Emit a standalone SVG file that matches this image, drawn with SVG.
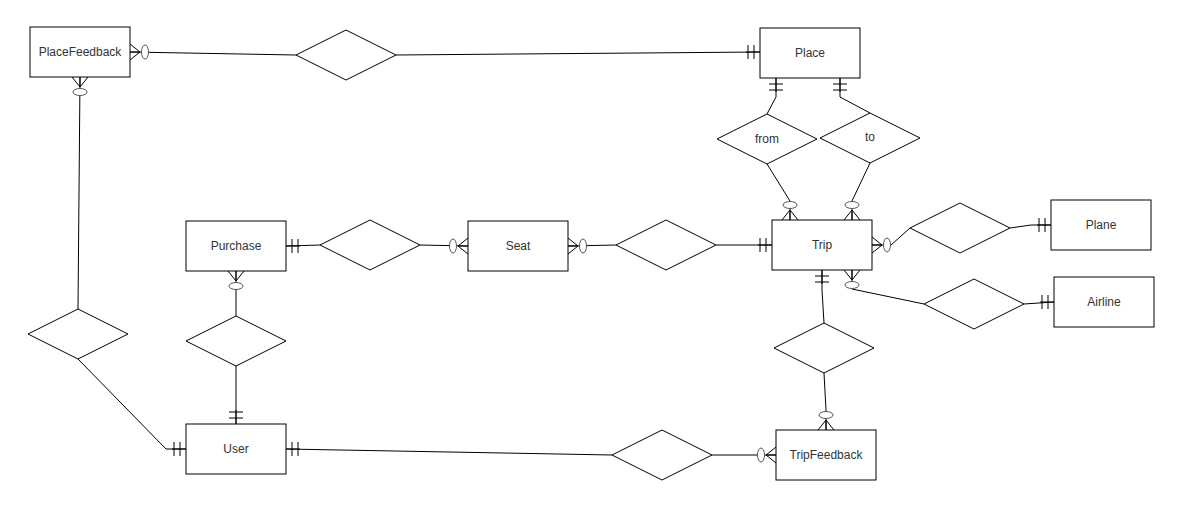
<svg xmlns="http://www.w3.org/2000/svg" xmlns:xlink="http://www.w3.org/1999/xlink" width="1180" height="506" viewBox="0 0 1180 506">
<style>
.ent{fill:#fff;stroke:#000;stroke-width:1}
.rel{fill:#fff;stroke:#000;stroke-width:1}
.t{font-family:"Liberation Sans",Arial,sans-serif;font-size:12px;fill:#333;text-anchor:middle;dominant-baseline:central}
.c{fill:none;stroke:#000;stroke-width:1}
.m{fill:none;stroke:#000;stroke-width:1}
.o{fill:#fff;stroke:#555;stroke-width:1}
</style>
<defs>
<g id="zm"><path class="m" d="M0,-8 L10,0 L0,8 M0,0 L10,0"/><ellipse class="o" cx="15" cy="0" rx="3.5" ry="7"/></g>
<g id="mo"><path class="m" d="M0,0 L14,0 M6,-7 L6,7 M12,-7 L12,7"/></g>
</defs>
<rect width="1180" height="506" fill="#fff"/>
<g id="connectors">
<path class="c" d="M130,52 L296,55"/>
<path class="c" d="M396,55 L760,52"/>
<path class="c" d="M80,77 L78,309"/>
<path class="c" d="M78,359 L166,449 L186,449"/>
<path class="c" d="M776,78 L776,97 L767,114"/>
<path class="c" d="M840,78 L840,97 L870,113"/>
<path class="c" d="M767,164 L790,201 L790,220"/>
<path class="c" d="M870,163 L852,201 L852,220"/>
<path class="c" d="M286,246 L320,245"/>
<path class="c" d="M420,245 L468,246"/>
<path class="c" d="M568,246 L616,245"/>
<path class="c" d="M716,245 L772,245"/>
<path class="c" d="M872,245 L891,245 L910,228"/>
<path class="c" d="M1010,228 L1031,225 L1051,225"/>
<path class="c" d="M852,270 L852,289 L924,304"/>
<path class="c" d="M1024,304 L1054,302"/>
<path class="c" d="M822,270 L822,290 L824,323"/>
<path class="c" d="M824,373 L826,410 L826,430"/>
<path class="c" d="M286,449 L612,455"/>
<path class="c" d="M712,455 L776,455"/>
<path class="c" d="M236,271 L236,316"/>
<path class="c" d="M236,366 L236,424"/>
<use xlink:href="#zm" transform="translate(130,52)"/>
<use xlink:href="#mo" transform="translate(760,52) rotate(180)"/>
<use xlink:href="#zm" transform="translate(80,77) rotate(90)"/>
<use xlink:href="#mo" transform="translate(186,449) rotate(180)"/>
<use xlink:href="#mo" transform="translate(776,78) rotate(90)"/>
<use xlink:href="#mo" transform="translate(840,78) rotate(90)"/>
<use xlink:href="#zm" transform="translate(790,220) rotate(-90)"/>
<use xlink:href="#zm" transform="translate(852,220) rotate(-90)"/>
<use xlink:href="#mo" transform="translate(286,246)"/>
<use xlink:href="#zm" transform="translate(468,246) rotate(180)"/>
<use xlink:href="#zm" transform="translate(568,246)"/>
<use xlink:href="#mo" transform="translate(772,245) rotate(180)"/>
<use xlink:href="#zm" transform="translate(872,245)"/>
<use xlink:href="#mo" transform="translate(1051,225) rotate(180)"/>
<use xlink:href="#zm" transform="translate(852,270) rotate(90)"/>
<use xlink:href="#mo" transform="translate(1054,302) rotate(180)"/>
<use xlink:href="#mo" transform="translate(822,270) rotate(90)"/>
<use xlink:href="#zm" transform="translate(826,430) rotate(-90)"/>
<use xlink:href="#mo" transform="translate(286,449)"/>
<use xlink:href="#zm" transform="translate(776,455) rotate(180)"/>
<use xlink:href="#zm" transform="translate(236,271) rotate(90)"/>
<use xlink:href="#mo" transform="translate(236,424) rotate(-90)"/>
</g>
<g id="PlaceFeedback"><rect class="ent" x="30" y="27" width="100" height="50"/><text class="t" x="80" y="52">PlaceFeedback</text></g>
<g id="Place"><rect class="ent" x="760" y="28" width="100" height="50"/><text class="t" x="810" y="53">Place</text></g>
<g id="Trip"><rect class="ent" x="772" y="220" width="100" height="50"/><text class="t" x="822" y="245">Trip</text></g>
<g id="Seat"><rect class="ent" x="468" y="221" width="100" height="50"/><text class="t" x="518" y="246">Seat</text></g>
<g id="Purchase"><rect class="ent" x="186" y="221" width="100" height="50"/><text class="t" x="236" y="246">Purchase</text></g>
<g id="User"><rect class="ent" x="186" y="424" width="100" height="50"/><text class="t" x="236" y="449">User</text></g>
<g id="TripFeedback"><rect class="ent" x="776" y="430" width="100" height="50"/><text class="t" x="826" y="455">TripFeedback</text></g>
<g id="Plane"><rect class="ent" x="1051" y="200" width="100" height="50"/><text class="t" x="1101" y="225">Plane</text></g>
<g id="Airline"><rect class="ent" x="1054" y="277" width="100" height="50"/><text class="t" x="1104" y="302">Airline</text></g>
<g id="rel_placefeedback"><polygon class="rel" points="296,55 346,30 396,55 346,80"/></g>
<g id="rel_from"><polygon class="rel" points="717,139 767,114 817,139 767,164"/><text class="t" x="767" y="139">from</text></g>
<g id="rel_to"><polygon class="rel" points="820,138 870,113 920,138 870,163"/><text class="t" x="870" y="137">to</text></g>
<g id="rel_purchase_seat"><polygon class="rel" points="320,245 370,220 420,245 370,270"/></g>
<g id="rel_seat_trip"><polygon class="rel" points="616,245 666,220 716,245 666,270"/></g>
<g id="rel_trip_plane"><polygon class="rel" points="910,228 960,203 1010,228 960,253"/></g>
<g id="rel_trip_airline"><polygon class="rel" points="924,304 974,279 1024,304 974,329"/></g>
<g id="rel_trip_tripfeedback"><polygon class="rel" points="774,348 824,323 874,348 824,373"/></g>
<g id="rel_user_tripfeedback"><polygon class="rel" points="612,455 662,430 712,455 662,480"/></g>
<g id="rel_placefeedback_user"><polygon class="rel" points="28,334 78,309 128,334 78,359"/></g>
<g id="rel_purchase_user"><polygon class="rel" points="186,341 236,316 286,341 236,366"/></g>
</svg>
